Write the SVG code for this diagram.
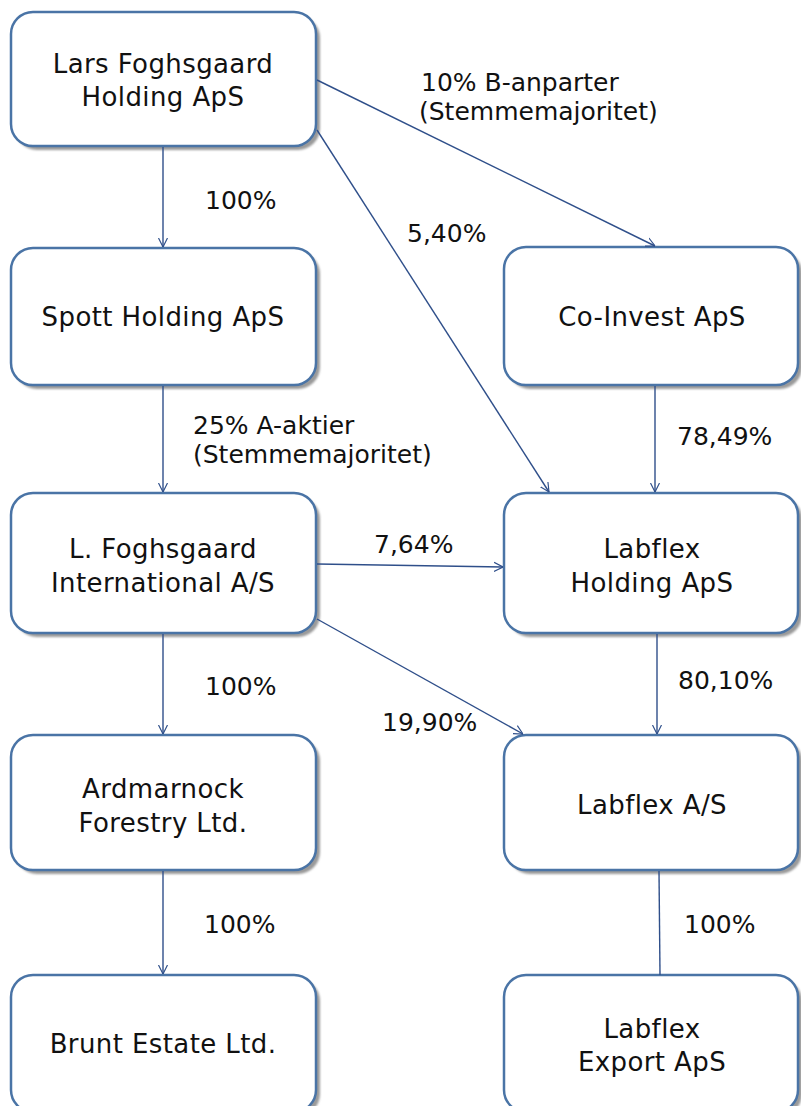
<svg xmlns="http://www.w3.org/2000/svg" width="801" height="1106" viewBox="0 0 801 1106">
<style>
.box{fill:#ffffff;stroke:#4a74a6;stroke-width:2.5}
.sh{fill:#9a9a9a;filter:url(#blur)}
.t{font-family:"DejaVu Sans","Verdana",sans-serif;font-size:26px;letter-spacing:0.4px;fill:#111111;text-anchor:middle}
.l{font-family:"DejaVu Sans","Verdana",sans-serif;font-size:25px;fill:#111111}
.c{stroke:#2f4f8a;stroke-width:1.4;fill:none}
</style>
<defs>
<filter id="blur" x="-10%" y="-10%" width="120%" height="120%"><feGaussianBlur stdDeviation="1.2"/></filter>
<marker id="arr" viewBox="0 0 10 10" refX="10" refY="5" markerWidth="9" markerHeight="13" markerUnits="userSpaceOnUse" orient="auto">
<path d="M0,0 L10,5 L0,10" fill="none" stroke="#2f4f8a" stroke-width="1.3"/>
</marker>
</defs>
<rect width="801" height="1106" fill="#ffffff"/>

<g id="n1">
<rect class="sh" x="15" y="16" width="305" height="134" rx="22"/>
<rect class="box" x="11" y="12" width="305" height="134" rx="22"/>
<text class="t" x="163" y="73">Lars Foghsgaard</text>
<text class="t" x="163" y="106">Holding ApS</text>
</g>
<g id="n2">
<rect class="sh" x="15" y="252" width="305" height="137" rx="22"/>
<rect class="box" x="11" y="248" width="305" height="137" rx="22"/>
<text class="t" x="163" y="326">Spott Holding ApS</text>
</g>
<g id="n3">
<rect class="sh" x="508" y="251" width="294" height="138" rx="22"/>
<rect class="box" x="504" y="247" width="294" height="138" rx="22"/>
<text class="t" x="652" y="326">Co-Invest ApS</text>
</g>
<g id="n4">
<rect class="sh" x="15" y="497" width="305" height="140" rx="22"/>
<rect class="box" x="11" y="493" width="305" height="140" rx="22"/>
<text class="t" x="163" y="558">L. Foghsgaard</text>
<text class="t" x="163" y="592">International A/S</text>
</g>
<g id="n5">
<rect class="sh" x="508" y="497" width="294" height="140" rx="22"/>
<rect class="box" x="504" y="493" width="294" height="140" rx="22"/>
<text class="t" x="652" y="558">Labflex</text>
<text class="t" x="652" y="592">Holding ApS</text>
</g>
<g id="n6">
<rect class="sh" x="15" y="739" width="305" height="135" rx="22"/>
<rect class="box" x="11" y="735" width="305" height="135" rx="22"/>
<text class="t" x="163" y="798">Ardmarnock</text>
<text class="t" x="163" y="832">Forestry Ltd.</text>
</g>
<g id="n7">
<rect class="sh" x="508" y="739" width="294" height="135" rx="22"/>
<rect class="box" x="504" y="735" width="294" height="135" rx="22"/>
<text class="t" x="652" y="814">Labflex A/S</text>
</g>
<g id="n8">
<rect class="sh" x="15" y="979" width="305" height="137" rx="22"/>
<rect class="box" x="11" y="975" width="305" height="137" rx="22"/>
<text class="t" x="163" y="1053">Brunt Estate Ltd.</text>
</g>
<g id="n9">
<rect class="sh" x="508" y="979" width="294" height="137" rx="22"/>
<rect class="box" x="504" y="975" width="294" height="137" rx="22"/>
<text class="t" x="652" y="1038">Labflex</text>
<text class="t" x="652" y="1071">Export ApS</text>
</g>

<g id="connectors">
<line class="c" x1="163" y1="147" x2="163" y2="247" marker-end="url(#arr)"/>
<line class="c" x1="163" y1="386" x2="163" y2="492" marker-end="url(#arr)"/>
<line class="c" x1="163" y1="634" x2="163" y2="734" marker-end="url(#arr)"/>
<line class="c" x1="163" y1="871" x2="163" y2="974" marker-end="url(#arr)"/>
<line class="c" x1="317" y1="80" x2="655" y2="246" marker-end="url(#arr)"/>
<line class="c" x1="317" y1="130" x2="549" y2="492" marker-end="url(#arr)"/>
<line class="c" x1="655" y1="386" x2="655" y2="492" marker-end="url(#arr)"/>
<line class="c" x1="317" y1="564" x2="503" y2="567" marker-end="url(#arr)"/>
<line class="c" x1="317" y1="619" x2="523" y2="734" marker-end="url(#arr)"/>
<line class="c" x1="657" y1="634" x2="657" y2="734" marker-end="url(#arr)"/>
<line class="c" x1="659" y1="871" x2="660" y2="975"/>
</g>

<g id="labels">
<text class="l" x="421" y="91">10% B-anparter</text>
<text class="l" x="419" y="120">(Stemmemajoritet)</text>
<text class="l" x="205" y="209">100%</text>
<text class="l" x="407" y="242">5,40%</text>
<text class="l" x="193" y="434">25% A-aktier</text>
<text class="l" x="193" y="463">(Stemmemajoritet)</text>
<text class="l" x="677" y="445">78,49%</text>
<text class="l" x="374" y="553">7,64%</text>
<text class="l" x="205" y="695">100%</text>
<text class="l" x="382" y="731">19,90%</text>
<text class="l" x="678" y="689">80,10%</text>
<text class="l" x="204" y="933">100%</text>
<text class="l" x="684" y="933">100%</text>
</g>
</svg>
